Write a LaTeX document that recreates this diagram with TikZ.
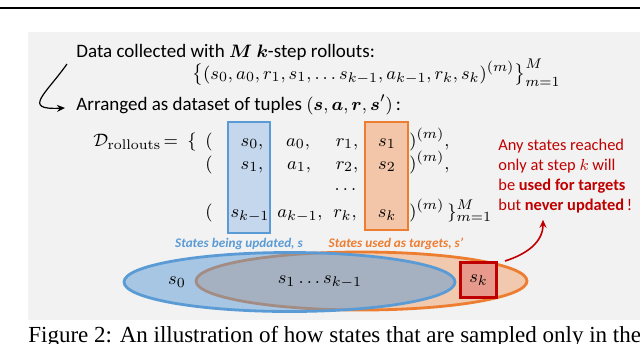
\documentclass[tikz,border=0pt]{standalone}
\usepackage[no-math]{fontspec}
\setmainfont{Carlito}
\newfontfamily\fuentepie{Liberation Serif}
\usepackage{amsmath, bm}
\usetikzlibrary{positioning, arrows.meta, calc}
\definecolor{fondo}{HTML}{F2F2F2}
\definecolor{azul}{HTML}{5B9BD5}
\definecolor{azulclaro}{HTML}{C4D7EC}
\definecolor{naranja}{HTML}{ED7D31}
\definecolor{naranjaclaro}{HTML}{F4C6A9}
\definecolor{rojo}{HTML}{C00000}
\definecolor{rojoclaro}{HTML}{E79A8B}

\begin{document}
\begin{tikzpicture}[x=0.5pt, y=-0.5pt, font=\fontsize{9.5}{11.5}\selectfont,
			texto/.style={anchor=base west, inner sep=0pt},
			celda/.style={anchor=base, inner sep=0pt},
			marco/.style={line width=1.1pt},
			etiqueta/.style={anchor=base, inner sep=0pt, font=\fontsize{6.6}{8}\selectfont\bfseries\itshape},
			flecha/.style={-{Stealth[length=4pt, width=3.5pt]}, line width=0.6pt}]
			\clip (0,0) rectangle (640,343);
			\fill[fondo] (28,32) rectangle (640,320);
			\draw[line width=1.3pt] (0,8) -- (640,8);
			% columnas resaltadas
			\draw[marco, draw=azul, fill=azulclaro] (228,122) rectangle (270,233);
			\draw[marco, draw=naranja, fill=naranjaclaro] (365,122) rectangle (408,230);
			% texto de arriba
			\node[texto] (datos) at (76,57) {Data collected with $\bm{M}$ $\bm{k}$-step rollouts:};
			\node[texto] (tray) at (192,79)
				{$\bigl\{(s_0, a_0, r_1, s_1, \dots s_{k-1}, a_{k-1}, r_k, s_k)^{(m)}\bigr\}_{m=1}^{M}$};
			\node[texto] (orden) at (76,110) {Arranged as dataset of tuples $(\bm{s}, \bm{a}, \bm{r}, \bm{s}')$\,:};
			\draw[flecha] ($(datos.base west)+(-9,7)$) .. controls (45,95) and (22,110) .. ($(orden.base west)+(-11,-2)$);
			% tabla de tuplas
			\node[texto] (drol) at (93,146) {$\mathcal{D}_{\mathrm{rollouts}}$};
			\node[anchor=base east, inner sep=0pt] (igual) at (197,146) {$=\ \{$};
			\node[celda] (p1) at (209,146) {$($};
			\node[celda] (s1) at (252,146) {$s_0,$};
			\node[celda] (a1) at (298,146) {$a_0,$};
			\node[celda] (r1) at (347,146) {$r_1,$};
			\node[celda] (t1) at (387,146) {$s_1$};
			\node[texto] (c1) at (409,146) {$)^{(m)},$};
			\node[celda] (p2) at (209,169) {$($};
			\node[celda] (s2) at (252,169) {$s_1,$};
			\node[celda] (a2) at (299,169) {$a_1,$};
			\node[celda] (r2) at (347,169) {$r_2,$};
			\node[celda] (t2) at (387,169) {$s_2$};
			\node[texto] (c2) at (409,169) {$)^{(m)},$};
			\node[celda] (pts) at (347,190) {$\dots$};
			\node[celda] (p4) at (209,217) {$($};
			\node[celda] (s4) at (250,217) {$s_{k-1}$};
			\node[celda] (a4) at (300,217) {$a_{k-1},$};
			\node[celda] (r4) at (345,217) {$r_k,$};
			\node[celda] (t4) at (387,217) {$s_k$};
			\node[texto] (c4) at (409,217) {$)^{(m)}$};
			\node[texto] (llave) at (447,217) {$\}_{m=1}^{M}$};
			\node[etiqueta, text=azul] (lblact) at (239,247) {States being updated, s};
			\node[etiqueta, text=naranja] (lblobj) at (396,247) {States used as targets, s’};
			% conjuntos de estados
			\fill[naranja, opacity=0.35] (361.5,281) ellipse [x radius=165.5, y radius=29];
			\draw[naranja, line width=1.4pt] (361.5,281) ellipse [x radius=165.5, y radius=29];
			\fill[azul, opacity=0.5] (289.5,282) ellipse [x radius=165.5, y radius=29.5];
			\draw[azul, line width=1.4pt] (289.5,282) ellipse [x radius=165.5, y radius=29.5];
			\node[inner sep=0pt] (e0) at (177,282) {$s_0$};
			\node[inner sep=0pt] (emed) at (320,282) {$s_1 \dots s_{k-1}$};
			\node[draw=rojo, line width=1.5pt, fill=rojoclaro, minimum width=18pt, minimum height=17.5pt,
			      inner sep=0pt] (ek) at (478.5,280) {$s_k$};
			% aviso en rojo
			\node[anchor=north west, inner sep=0pt, align=left, text=rojo, font=\fontsize{8.2}{10}\selectfont] (aviso) at (498,139)
				{Any states reached\\ only at step $k$ will\\ be \textbf{used for targets}\\ but \textbf{never updated}\,!};
			\draw[flecha, rojo, line width=0.8pt] ([xshift=3.5pt]ek.north east) .. controls (527,254) and (543,242) .. ($(aviso.south west)+(45,6)$);
			% pie de figura
			\node[texto, font=\fuentepie\fontsize{11.5}{14}\selectfont] (pie) at (28,342)
				{Figure 2: An illustration of how states that are sampled only in the};
		\end{tikzpicture}
\end{document}
